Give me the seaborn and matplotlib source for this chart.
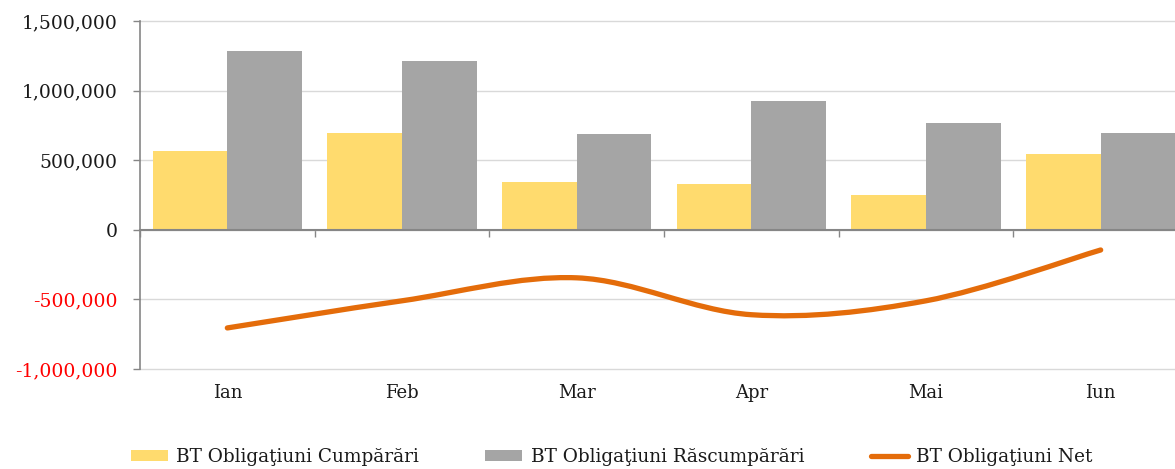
import numpy as np
import pandas as pd
import matplotlib.pyplot as plt
import seaborn as sns
from matplotlib.path import Path
from matplotlib.patches import PathPatch
from matplotlib.lines import Line2D

# values
months = ['Ian', 'Feb', 'Mar', 'Apr', 'Mai', 'Iun']
cumparari = [568000, 695000, 343000, 328000, 253000, 547000]
rascumparari = [1281000, 1216000, 688000, 928000, 767000, 693000]
net = [-705000, -510000, -345000, -610000, -510000, -145000]
y_ticks = [-1000000, -500000, 0, 500000, 1000000, 1500000]

name_buy = 'BT Obligaţiuni Cumpărări'
name_sell = 'BT Obligaţiuni Răscumpărări'
name_net = 'BT Obligaţiuni Net'

yellow = '#FFDB6E'
gray = '#A5A5A5'
orange = '#E46C0A'
axis_gray = '#868686'

sns.set_theme(style='white')
plt.rcParams['font.family'] = ['DejaVu Serif']

df = pd.DataFrame({
    'luna': months * 2,
    'valoare': cumparari + rascumparari,
    'serie': [name_buy] * len(months) + [name_sell] * len(months),
})

fig = plt.figure(figsize=(11.75, 4.69), dpi=100)
ax = fig.add_axes([140 / 1175, 1 - 369 / 469, 1048 / 1175, 348 / 469])

sns.barplot(data=df, x='luna', y='valoare', hue='serie', palette=[yellow, gray],
            width=0.855, saturation=1, errorbar=None, edgecolor='none', ax=ax)

# smoothed net line (Excel-style bezier through the monthly points)
pts = np.column_stack([np.arange(len(net)), np.array(net, dtype=float)])
verts = [tuple(pts[0])]
codes = [Path.MOVETO]
n = len(pts)
for i in range(n - 1):
    p_prev = pts[max(i - 1, 0)]
    p_next = pts[min(i + 2, n - 1)]
    c1 = pts[i] + (pts[i + 1] - p_prev) / 6
    c2 = pts[i + 1] - (p_next - pts[i]) / 6
    verts += [tuple(c1), tuple(c2), tuple(pts[i + 1])]
    codes += [Path.CURVE4] * 3
ax.add_patch(PathPatch(Path(verts, codes), facecolor='none', edgecolor=orange,
                       lw=3.8, capstyle='round', zorder=4))

ax.set_xlim(-0.5, 5.5)
ax.set_ylim(-1000000, 1500000)

ax.set_yticks(y_ticks)
ax.set_yticklabels([f'{t:,}' for t in y_ticks])
for lab, t in zip(ax.get_yticklabels(), y_ticks):
    lab.set_color('#FF0000' if t < 0 else '#1A1A1A')

ax.yaxis.grid(True, color='#D9D9D9', lw=1)
ax.xaxis.grid(False)
ax.set_axisbelow(True)
for gl in ax.get_ygridlines():
    gl.set_clip_on(False)

sns.despine(ax=ax, top=True, right=True)
ax.spines['left'].set_color(axis_gray)
ax.spines['left'].set_linewidth(1.2)
ax.spines['bottom'].set_position(('data', 0))
ax.spines['bottom'].set_color(axis_gray)
ax.spines['bottom'].set_linewidth(1.5)
ax.spines['bottom'].set_zorder(5)

ax.set_xticks(range(len(months)))
ax.set_xticks(np.arange(-0.5, len(months), 1), minor=True)
ax.tick_params(axis='y', left=True, length=5, width=1, color=axis_gray, pad=11, labelsize=13.5)
ax.tick_params(axis='x', which='major', bottom=True, length=0, pad=111, labelsize=13,
               labelcolor='#1A1A1A')
ax.tick_params(axis='x', which='minor', bottom=True, length=5, width=1, color=axis_gray)
ax.set_xlabel('')
ax.set_ylabel('')

handles, labels = ax.get_legend_handles_labels()
ax.get_legend().remove()
handles.append(Line2D([0], [0], color=orange, lw=3.8))
labels.append(name_net)
fig.legend(handles, labels, loc='lower center', bbox_to_anchor=(0.5205, -0.03), ncol=3,
           frameon=False, fontsize=13.3, handlelength=2.0, handleheight=0.55,
           columnspacing=3.6, handletextpad=0.45, labelcolor='#1A1A1A')

fig.savefig('out.png', dpi=100)
